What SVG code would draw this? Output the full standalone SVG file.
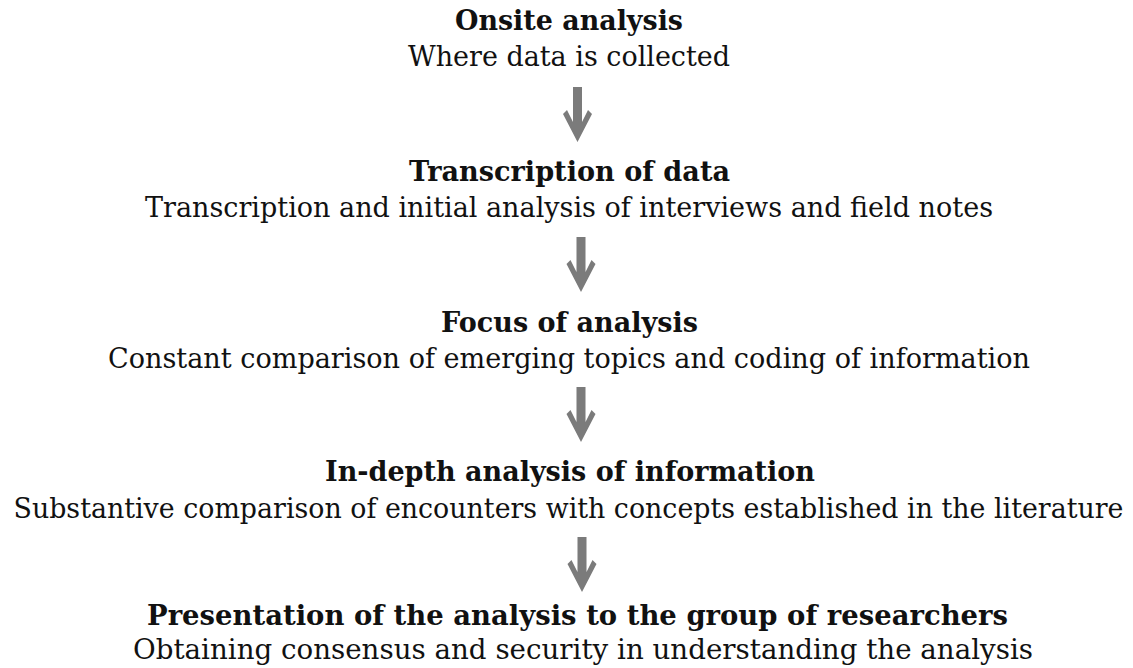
<svg xmlns="http://www.w3.org/2000/svg" width="1133" height="668" viewBox="0 0 1133 668">
<style>
text{font-family:"DejaVu Serif","Liberation Serif",serif;font-size:27px;fill:#111;text-anchor:middle}
.t{font-weight:bold}
.a{fill:#7b7b7b}
</style>
<defs>
<path id="arr" d="M -4.5 0 H 4.5 V 35 L 10.5 23 L 14.5 27 L 0 55 L -14.5 27 L -10.5 23 L -4.5 35 Z"/>
</defs>
<rect width="1133" height="668" fill="#fff"/>
<g id="n1"><text class="t" x="569" y="30" textLength="228" lengthAdjust="spacingAndGlyphs">Onsite analysis</text><text x="569" y="66" textLength="322" lengthAdjust="spacingAndGlyphs">Where data is collected</text></g>
<g id="n2"><text class="t" x="569.5" y="181" textLength="321" lengthAdjust="spacingAndGlyphs">Transcription of data</text><text x="569" y="217" textLength="848" lengthAdjust="spacingAndGlyphs">Transcription and initial analysis of interviews and field notes</text></g>
<g id="n3"><text class="t" x="569.5" y="332" textLength="257" lengthAdjust="spacingAndGlyphs">Focus of analysis</text><text x="569" y="368" textLength="922" lengthAdjust="spacingAndGlyphs">Constant comparison of emerging topics and coding of information</text></g>
<g id="n4"><text class="t" x="570" y="481" textLength="490" lengthAdjust="spacingAndGlyphs">In-depth analysis of information</text><text x="568.5" y="518" textLength="1110" lengthAdjust="spacingAndGlyphs">Substantive comparison of encounters with concepts established in the literature</text></g>
<g id="n5"><text class="t" x="577.5" y="625" textLength="861" lengthAdjust="spacingAndGlyphs">Presentation of the analysis to the group of researchers</text><text x="583" y="659" textLength="900" lengthAdjust="spacingAndGlyphs">Obtaining consensus and security in understanding the analysis</text></g>
<g id="connectors" class="a">
<use href="#arr" x="577.5" y="87"/>
<use href="#arr" x="581" y="237"/>
<use href="#arr" x="581" y="387"/>
<use href="#arr" x="582" y="537"/>
</g>
</svg>
